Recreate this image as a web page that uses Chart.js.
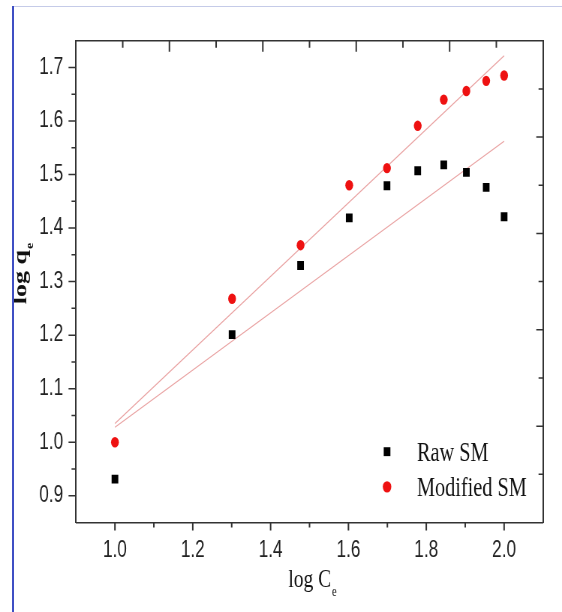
<!DOCTYPE html>
<html lang="en">
<head>
<meta charset="utf-8">
<title>log qe vs log Ce</title>
<script src="https://cdn.jsdelivr.net/npm/chart.js"></script>
<style>
  body { margin: 0; background: #fff; }
  #wrap { position: relative; width: 562px; height: 612px; overflow: hidden; }
  #chart { position: absolute; left: 0; top: 0; }
  #frameTop { position: absolute; left: 13px; right: 0; top: 6px; height: 1px; background: #c5cbe8; }
  #frameLeft { position: absolute; left: 12px; top: 6px; bottom: 0; width: 2px; background: #3f4fc4; }
</style>
</head>
<body>
<div id="wrap">
  <!-- the reference is squeezed sideways, so draw wide and show it narrow -->
  <canvas id="chart" width="749" height="612" style="width:562px;height:612px"></canvas>
  <div id="frameTop"></div>
  <div id="frameLeft"></div>
</div>
<script>
// data
const logCe = [1.0, 1.301, 1.477, 1.602, 1.699, 1.778, 1.845, 1.903, 1.954, 2.0];
const rawSM = [0.931, 1.201, 1.330, 1.419, 1.479, 1.507, 1.518, 1.504, 1.476, 1.421];
const modifiedSM = [1.0, 1.268, 1.368, 1.480, 1.512, 1.591, 1.640, 1.656, 1.675, 1.685];
const fitX = [1.0, 2.0];
const rawFit = [1.028, 1.562];
const modifiedFit = [1.035, 1.722];
const seriesNames = ['Raw SM', 'Modified SM'];

const xTicks = [1.0, 1.2, 1.4, 1.6, 1.8, 2.0];
const xMinor = [1.1, 1.3, 1.5, 1.7, 1.9];
const yTicks = [0.9, 1.0, 1.1, 1.2, 1.3, 1.4, 1.5, 1.6, 1.7];
const yMinor = [0.95, 1.05, 1.15, 1.25, 1.35, 1.45, 1.55, 1.65];
const frameMajor = [2, 4, 6, 8];
const frameMinor = [1, 3, 5, 7, 9];

const ink = '#333333';
const serif = "'Liberation Serif', 'Times New Roman', serif";
const sans = "'Liberation Sans', Arial, sans-serif";

const pts = (xs, ys) => xs.map((x, i) => ({x: x, y: ys[i]}));

// outward / inward tick marks, major and minor
const tickMarks = {
  id: 'tickMarks',
  afterDraw(chart) {
    const {ctx, scales} = chart;
    const put = (scale, values, len) => {
      ctx.beginPath();
      values.forEach(v => {
        const p = scale.getPixelForValue(v);
        if (scale.isHorizontal()) {
          const base = scale.position === 'bottom' ? scale.top : scale.bottom;
          ctx.moveTo(p, base); ctx.lineTo(p, base + len);
        } else {
          const base = scale.position === 'left' ? scale.right : scale.left;
          ctx.moveTo(base, p); ctx.lineTo(base - len, p);
        }
      });
      ctx.stroke();
    };
    ctx.save();
    ctx.strokeStyle = ink;
    ctx.lineWidth = 2;
    put(scales.x, xTicks, 8);
    put(scales.x, xMinor, 5);
    put(scales.x2, frameMajor, 11);
    put(scales.x2, frameMinor, 7);
    ctx.lineWidth = 1.5;
    put(scales.y, yTicks, 10);
    put(scales.y, yMinor, 6);
    put(scales.y2, frameMajor, 9);
    put(scales.y2, frameMinor, 6);
    ctx.restore();
  }
};

// "main" with a subscript, centred on x, baseline y
function subText(ctx, main, sub, x, y, size, weight) {
  const subSize = Math.round(size * 0.55);
  const w = weight ? weight + ' ' : '';
  ctx.font = w + size + 'px ' + serif;
  const w1 = ctx.measureText(main).width;
  ctx.font = w + subSize + 'px ' + serif;
  const w2 = ctx.measureText(sub).width;
  const left = x - (w1 + w2 + 1) / 2;
  ctx.textAlign = 'left';
  ctx.textBaseline = 'alphabetic';
  ctx.font = w + size + 'px ' + serif;
  ctx.fillText(main, left, y);
  ctx.font = w + subSize + 'px ' + serif;
  ctx.fillText(sub, left + w1 + 1, y + size * 0.35);
}

const axisTitles = {
  id: 'axisTitles',
  afterDraw(chart) {
    const {ctx, chartArea: a} = chart;
    ctx.save();
    ctx.fillStyle = '#111';
    subText(ctx, 'log C', 'e', (a.left + a.right) / 2 + 4, a.bottom + 64, 26);
    ctx.translate(a.left - 66, (a.top + a.bottom) / 2 - 8);
    ctx.rotate(-Math.PI / 2);
    subText(ctx, 'log q', 'e', 0, 0, 26, 'bold');
    ctx.restore();
  }
};

const legendBox = {
  id: 'legendBox',
  afterDatasetsDraw(chart) {
    const {ctx, chartArea: a} = chart;
    const mx = a.left + a.width * 0.666;
    const rows = [0.853, 0.926];
    ctx.save();
    chart.data.datasets.slice(0, 2).forEach((d, i) => {
      const my = a.top + a.height * rows[i];
      ctx.fillStyle = d.backgroundColor;
      ctx.beginPath();
      if (d.pointStyle === 'rect') {
        const s = d.pointRadius * Math.SQRT1_2;
        ctx.rect(mx - s, my - s, 2 * s, 2 * s);
      } else {
        ctx.arc(mx, my, d.pointRadius + 0.5, 0, Math.PI * 2);
      }
      ctx.fill();
      ctx.fillStyle = '#111';
      ctx.font = '27px ' + serif;
      ctx.textAlign = 'left';
      ctx.textBaseline = 'alphabetic';
      ctx.fillText(d.label, mx + 40, my + 9);
    });
    ctx.restore();
  }
};

const fitLine = (ys, color) => ({
  label: 'fit',
  data: pts(fitX, ys),
  showLine: true,
  borderColor: color,
  borderWidth: 1.2,
  pointRadius: 0,
  fill: false
});

new Chart(document.getElementById('chart'), {
  type: 'scatter',
  data: {
    datasets: [{
      label: seriesNames[0],
      data: pts(logCe, rawSM),
      pointStyle: 'rect',
      pointRadius: 6.3,
      backgroundColor: '#000000',
      borderWidth: 0
    }, {
      label: seriesNames[1],
      data: pts(logCe, modifiedSM),
      pointStyle: 'circle',
      pointRadius: 5.2,
      backgroundColor: '#ee1111',
      borderWidth: 0
    },
    fitLine(modifiedFit, 'rgba(228,140,140,0.8)'),
    fitLine(rawFit, 'rgba(228,140,140,0.8)')]
  },
  options: {
    responsive: false,
    animation: false,
    devicePixelRatio: 1,
    layout: { padding: 0 },
    plugins: { legend: { display: false }, tooltip: { enabled: false } },
    scales: {
      x: {
        type: 'linear', position: 'bottom', min: 0.9, max: 2.1,
        afterBuildTicks: s => { s.ticks = xTicks.map(v => ({value: v})); },
        afterFit: s => { s.height = 89.5; },
        grid: { display: false, drawTicks: false },
        border: { display: true, color: ink, width: 1.5 },
        ticks: { padding: 14, color: '#222', font: { family: sans, size: 23 },
                 callback: v => v.toFixed(1) }
      },
      x2: {
        type: 'linear', axis: 'x', position: 'top', min: 0, max: 10,
        afterFit: s => { s.height = 40.7; },
        grid: { display: false, drawTicks: false },
        border: { display: true, color: ink, width: 1.5 },
        ticks: { display: false }
      },
      y: {
        type: 'linear', position: 'left', min: 0.85, max: 1.75,
        afterBuildTicks: s => { s.ticks = yTicks.map(v => ({value: v})); },
        afterFit: s => { s.width = 101.3; },
        grid: { display: false, drawTicks: false },
        border: { display: true, color: ink, width: 2 },
        ticks: { padding: 17, color: '#222', font: { family: sans, size: 23 },
                 callback: v => v.toFixed(1) }
      },
      y2: {
        type: 'linear', axis: 'y', position: 'right', min: 0, max: 10,
        afterFit: s => { s.width = 25.3; },
        grid: { display: false, drawTicks: false },
        border: { display: true, color: ink, width: 2 },
        ticks: { display: false }
      }
    }
  },
  plugins: [tickMarks, axisTitles, legendBox]
});
</script>
</body>
</html>
